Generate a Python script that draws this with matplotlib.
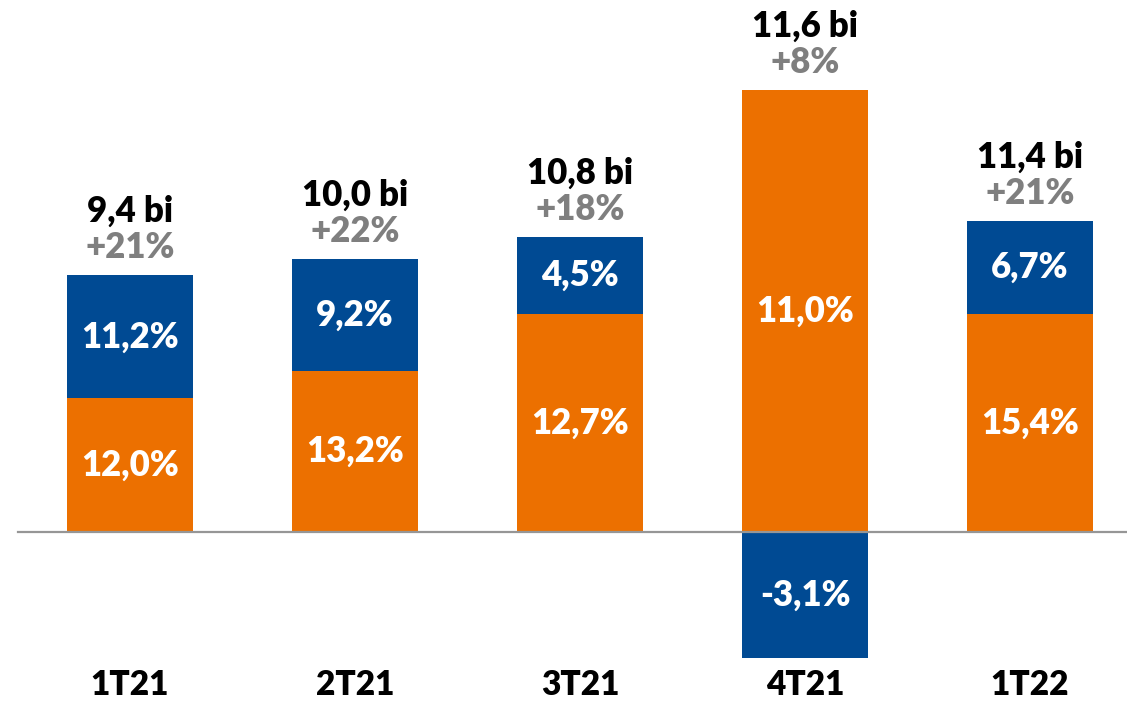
import matplotlib.pyplot as plt
import numpy as np

# data (segment sizes in R$ bi)
quarters = ['1T21', '2T21', '3T21', '4T21', '1T22']
orange_vals = [4.9, 5.9, 8.0, 16.2, 8.0]
blue_vals = [4.5, 4.1, 2.8, -4.6, 3.4]
orange_labels = ['12,0%', '13,2%', '12,7%', '11,0%', '15,4%']
blue_labels = ['11,2%', '9,2%', '4,5%', '-3,1%', '6,7%']
totals = ['9,4 bi', '10,0 bi', '10,8 bi', '11,6 bi', '11,4 bi']
growth = ['+21%', '+22%', '+18%', '+8%', '+21%']

ORANGE = '#EC7000'
BLUE = '#004A93'
GRAY = '#7F7F7F'

plt.rcParams['font.family'] = ['Lato', 'DejaVu Sans']

fig = plt.figure(figsize=(11.27, 7.03), dpi=100)
ax = fig.add_axes([0, 0, 1, 1])

x = np.arange(len(quarters))
w = 0.556
orange = np.array(orange_vals)
blue = np.array(blue_vals)
blue_bottom = np.where(blue >= 0, orange, 0)

ax.bar(x, orange, width=w, color=ORANGE, zorder=2)
ax.bar(x, blue, width=w, bottom=blue_bottom, color=BLUE, zorder=2)
ax.axhline(0, xmin=0.016, xmax=1, color='#969696', lw=1.6, zorder=3)

fs = 25
for i in range(len(quarters)):
    ax.text(x[i], orange[i] / 2, orange_labels[i], ha='center', va='center',
            color='white', fontsize=fs, fontweight='heavy')
    ax.text(x[i], blue_bottom[i] + blue[i] / 2, blue_labels[i], ha='center', va='center',
            color='white', fontsize=fs, fontweight='heavy')
    top = orange[i] + max(blue[i], 0)
    ax.annotate(growth[i], (x[i], top), xytext=(0, 20), textcoords='offset points',
                ha='center', va='center', color=GRAY, fontsize=fs, fontweight='heavy')
    ax.annotate(totals[i], (x[i], top), xytext=(0, 46), textcoords='offset points',
                ha='center', va='center', color='black', fontsize=fs, fontweight='heavy')
    ax.text(x[i], 0.026, quarters[i], transform=ax.get_xaxis_transform(),
            ha='center', va='center', color='black', fontsize=24, fontweight='heavy')

ax.set_xlim(-0.578, 4.431)
ax.set_ylim(-6.26, 19.49)
ax.axis('off')

fig.savefig('out.png', dpi=100)
